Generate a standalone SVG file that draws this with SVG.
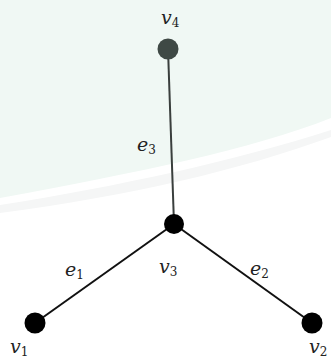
<svg xmlns="http://www.w3.org/2000/svg" width="331" height="361" viewBox="0 0 331 361">
<style>
.lbl{font-family:"DejaVu Serif","Liberation Serif",serif;font-style:italic;font-size:19px;fill:#222}
.sub{font-size:12px;font-style:normal}
.edge{stroke:#111;stroke-width:2;fill:none}
</style>
<rect width="331" height="361" fill="#ffffff"/>
<path d="M0 0 H331 V118 C250 150 140 172 0 198 Z" fill="#f0f8f4"/>
<path d="M0 205 C120 186 230 162 331 130 V137 C240 170 130 196 0 213 Z" fill="#f5f6f6"/>
<g id="connectors">
<line class="edge" x1="168" y1="49" x2="174" y2="224" style="stroke:#3a3f3d"/>
<line class="edge" x1="174" y1="224" x2="35" y2="323"/>
<line class="edge" x1="174" y1="224" x2="312" y2="323"/>
<text class="lbl" x="137" y="151">e<tspan class="sub" dy="3">3</tspan></text>
<text class="lbl" x="65" y="276">e<tspan class="sub" dy="3">1</tspan></text>
<text class="lbl" x="250" y="275">e<tspan class="sub" dy="3">2</tspan></text>
</g>
<g id="v4"><circle cx="168" cy="49" r="10.5" fill="#3f4945"/><text class="lbl" x="161" y="24">v<tspan class="sub" dy="3">4</tspan></text></g>
<g id="v3"><circle cx="174" cy="224" r="10" fill="#000"/><text class="lbl" x="159" y="273">v<tspan class="sub" dy="3">3</tspan></text></g>
<g id="v1"><circle cx="35" cy="323" r="10.5" fill="#000"/><text class="lbl" x="10" y="353">v<tspan class="sub" dy="3">1</tspan></text></g>
<g id="v2"><circle cx="312" cy="323" r="10.5" fill="#000"/><text class="lbl" x="309" y="353">v<tspan class="sub" dy="3">2</tspan></text></g>
</svg>
